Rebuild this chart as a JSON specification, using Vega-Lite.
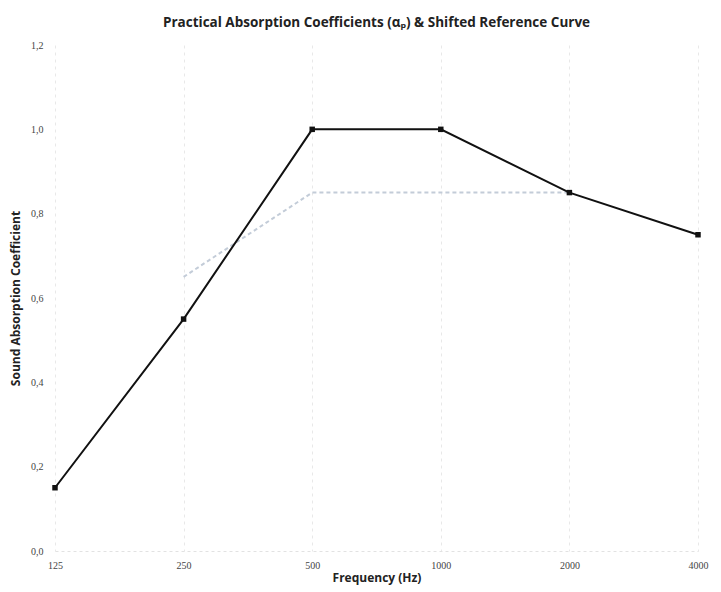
{
  "$schema": "https://vega.github.io/schema/vega-lite/v6.json",
  "autosize": "none",
  "padding": {"left": 55, "top": 45, "right": 23, "bottom": 41},
  "width": 643,
  "height": 506,
  "background": "white",
  "title": {
    "text": "Practical Absorption Coefficients (αₚ) & Shifted Reference Curve",
    "font": "Open Sans",
    "fontSize": 13.5,
    "fontWeight": "bold",
    "color": "#222",
    "offset": 11,
    "anchor": "middle"
  },
  "datasets": {
    "main": [
      {"f": "125", "v": 0.15},
      {"f": "250", "v": 0.55},
      {"f": "500", "v": 1.0},
      {"f": "1000", "v": 1.0},
      {"f": "2000", "v": 0.85},
      {"f": "4000", "v": 0.75}
    ],
    "ref": [
      {"f": "250", "v": 0.65},
      {"f": "500", "v": 0.85},
      {"f": "1000", "v": 0.85},
      {"f": "2000", "v": 0.85}
    ]
  },
  "encoding": {
    "x": {
      "field": "f", "type": "ordinal",
      "sort": ["125", "250", "500", "1000", "2000", "4000"],
      "scale": {"type": "point", "padding": 0, "domain": ["125", "250", "500", "1000", "2000", "4000"]},
      "axis": {
        "title": "Frequency (Hz)", "titleFont": "Open Sans", "titleFontSize": 12, "titleFontWeight": "bold", "titleColor": "#222", "titlePadding": 2,
        "labelAngle": 0, "labelFont": "Liberation Serif", "labelFontSize": 10, "labelColor": "#444", "labelPadding": 9,
        "domain": true, "domainColor": "#e2e2e2", "domainDash": [3, 3], "ticks": false,
        "grid": true, "gridColor": "#e8e8e8", "gridDash": [3, 4]
      }
    },
    "y": {
      "field": "v", "type": "quantitative",
      "scale": {"domain": [0, 1.2], "nice": false},
      "axis": {
        "title": "Sound Absorption Coefficient", "titleFont": "Open Sans", "titleFontSize": 12, "titleFontWeight": "bold", "titleColor": "#222", "titlePadding": 8,
        "values": [0, 0.2, 0.4, 0.6, 0.8, 1.0, 1.2],
        "labelExpr": "replace(format(datum.value, '.1f'), '.', ',')",
        "labelFont": "Liberation Serif", "labelFontSize": 10, "labelColor": "#444", "labelPadding": 12,
        "domain": false, "ticks": false, "grid": false
      }
    }
  },
  "layer": [
    {
      "data": {"name": "ref"},
      "mark": {"type": "line", "color": "#c3ccd8", "strokeWidth": 2, "strokeDash": [4, 3]},
      "encoding": {}
    },
    {
      "data": {"name": "main"},
      "mark": {"type": "line", "color": "#111", "strokeWidth": 2, "point": {"shape": "square", "size": 30, "color": "#111", "filled": true}},
      "encoding": {}
    }
  ],
  "config": {"view": {"stroke": null}}
}
